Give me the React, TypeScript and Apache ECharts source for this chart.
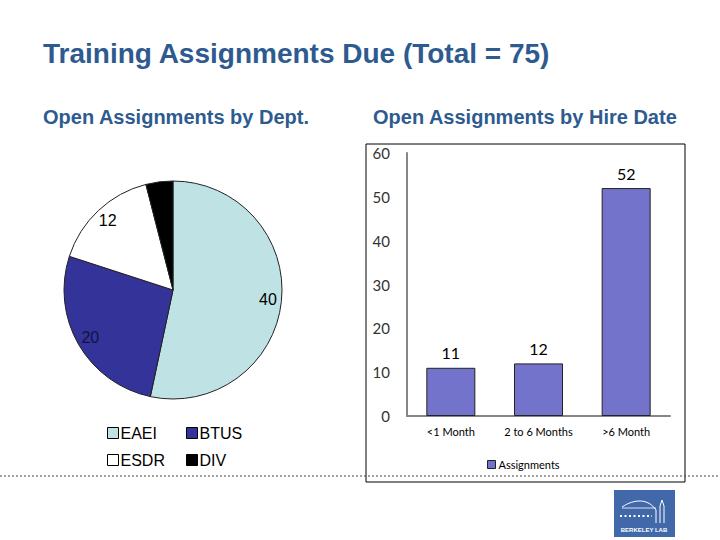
import { useEffect, useRef } from 'react';
import * as echarts from 'echarts';

// pie: open assignments by department
const deptNames = ['EAEI', 'BTUS', 'ESDR', 'DIV'];
const deptValues = [40, 20, 12, 3];
const deptColors = ['#BFE3E5', '#333399', '#FFFFFF', '#000000'];
const deptLabelColors = ['#000000', '#12123F', '#000000', '#000000'];

// bar: open assignments by hire date
const hireCategories = ['<1 Month', '2 to 6 Months', '>6 Month'];
const hireValues = [11, 12, 52];
const yTicks = { min: 0, max: 60, interval: 10 };

const TITLE_BLUE = '#2E5B8F';
const ARIAL = 'Liberation Sans, Arial, sans-serif';
const CALIBRI = 'Lato, Open Sans, sans-serif';

export default function App() {
  const ref = useRef<HTMLDivElement>(null);

  useEffect(() => {
    if (!ref.current) return;
    document.body.style.margin = '0';
    const chart = echarts.init(ref.current, undefined, { renderer: 'svg' });

    const pieData = deptNames.map((name, i) => ({
      name,
      value: deptValues[i],
      itemStyle: { color: deptColors[i] },
    }));

    // transparent ring, only used to put the value labels near the rim
    const pieLabels = deptNames.map((name, i) => ({
      name,
      value: deptValues[i],
      label: { show: name !== 'DIV', color: deptLabelColors[i] },
    }));

    const legendItem = (name: string) => {
      const i = deptNames.indexOf(name);
      return { name, itemStyle: { color: deptColors[i], borderColor: '#000', borderWidth: 1 } };
    };

    const legendBase = {
      orient: 'vertical' as const,
      top: 419,
      icon: 'rect',
      itemWidth: 11,
      itemHeight: 11,
      itemGap: 9,
      textStyle: { fontFamily: ARIAL, fontSize: 16, color: '#000', lineHeight: 18, padding: [0, 0, 0, -3] },
      selectedMode: false,
    };

    const option: any = {
      animation: false,
      backgroundColor: '#fff',
      title: [
        {
          text: 'Training Assignments Due (Total = 75)',
          left: 38,
          top: 34,
          textStyle: { fontFamily: ARIAL, fontSize: 28, fontWeight: 'bold', color: TITLE_BLUE },
        },
        {
          text: 'Open Assignments by Dept.',
          left: 38,
          top: 102,
          textStyle: { fontFamily: ARIAL, fontSize: 20, fontWeight: 'bold', color: TITLE_BLUE },
        },
        {
          text: 'Open Assignments by Hire Date',
          left: 368,
          top: 102,
          textStyle: { fontFamily: ARIAL, fontSize: 20, fontWeight: 'bold', color: TITLE_BLUE },
        },
      ],
      legend: [
        { ...legendBase, left: 102, data: ['EAEI', 'ESDR'].map(legendItem) },
        { ...legendBase, left: 181, data: ['BTUS', 'DIV'].map(legendItem) },
        {
          left: 482,
          top: 454,
          icon: 'rect',
          itemWidth: 8,
          itemHeight: 8,
          itemGap: 4,
          selectedMode: false,
          data: [{ name: 'Assignments', itemStyle: { color: '#7373CC', borderColor: '#222', borderWidth: 1 } }],
          textStyle: { fontFamily: CALIBRI, fontSize: 11, color: '#000', padding: [0, 0, 0, -2] },
        },
      ],
      grid: { left: 407, right: 50, top: 153, bottom: 124 },
      xAxis: {
        type: 'category',
        data: hireCategories,
        axisLine: { lineStyle: { color: '#868686', width: 2 } },
        axisTick: { show: false },
        axisLabel: { fontFamily: CALIBRI, fontSize: 11, color: '#000', margin: 10, interval: 0 },
      },
      yAxis: {
        type: 'value',
        ...yTicks,
        axisLine: { show: true, lineStyle: { color: '#868686', width: 2 } },
        axisTick: { show: false },
        splitLine: { show: false },
        axisLabel: { fontFamily: CALIBRI, fontSize: 15, color: '#333', margin: 17 },
      },
      series: [
        {
          type: 'pie',
          center: [173, 290],
          radius: 109,
          startAngle: 90,
          clockwise: true,
          silent: true,
          data: pieData,
          label: { show: false },
          labelLine: { show: false },
          itemStyle: { borderColor: '#222', borderWidth: 1 },
        },
        {
          type: 'pie',
          center: [173, 290],
          radius: [76, 109],
          startAngle: 90,
          clockwise: true,
          silent: true,
          data: pieLabels,
          itemStyle: { color: 'rgba(0,0,0,0)', borderWidth: 0 },
          label: {
            position: 'inside',
            formatter: '{c}',
            fontFamily: ARIAL,
            fontSize: 16,
          },
          labelLine: { show: false },
        },
        {
          name: 'Assignments',
          type: 'bar',
          data: hireValues,
          barWidth: 49,
          itemStyle: { color: '#7373CC', borderColor: '#222', borderWidth: 1 },
          label: {
            show: true,
            position: 'top',
            distance: 7,
            fontFamily: CALIBRI,
            fontSize: 16,
            color: '#000',
          },
        },
      ],
      graphic: [
        {
          type: 'rect',
          shape: { x: 366, y: 144, width: 319, height: 338 },
          style: { fill: 'none', stroke: '#000', lineWidth: 1 },
          silent: true,
        },
        {
          type: 'line',
          shape: { x1: 0, y1: 476, x2: 720, y2: 476 },
          style: { stroke: '#444', lineWidth: 1, lineDash: [2, 2] },
          silent: true,
        },
        {
          type: 'group',
          left: 614,
          top: 490,
          children: [
            { type: 'rect', shape: { x: 0, y: 0, width: 61, height: 47 }, style: { fill: '#4169AA' } },
            {
              type: 'bezierCurve',
              shape: { x1: 8, y1: 17, cpx1: 20, cpy1: 9, cpx2: 34, cpy2: 8, x2: 42, y2: 20 },
              style: { stroke: '#fff', lineWidth: 1, fill: 'none' },
            },
            {
              type: 'line',
              shape: { x1: 8, y1: 18, x2: 42, y2: 18 },
              style: { stroke: '#fff', lineWidth: 0.8 },
            },
            {
              type: 'line',
              shape: { x1: 42, y1: 20, x2: 42, y2: 33 },
              style: { stroke: '#fff', lineWidth: 1 },
            },
            {
              type: 'polyline',
              shape: { points: [[46, 33], [46, 16], [48, 10], [50, 16], [50, 33]] },
              style: { stroke: '#fff', lineWidth: 1, fill: 'none' },
            },
            {
              type: 'line',
              shape: { x1: 6, y1: 26, x2: 38, y2: 26 },
              style: { stroke: '#fff', lineWidth: 2, lineDash: [2, 2.5] },
            },
            {
              type: 'text',
              x: 30,
              y: 40,
              style: {
                text: 'BERKELEY LAB',
                fill: '#fff',
                font: 'bold 6px Liberation Sans, Arial, sans-serif',
                align: 'center',
                verticalAlign: 'middle',
              },
            },
          ],
        },
      ],
    };

    chart.setOption(option);
    return () => chart.dispose();
  }, []);

  return <div ref={ref} style={{ width: 720, height: 540 }} />;
}
